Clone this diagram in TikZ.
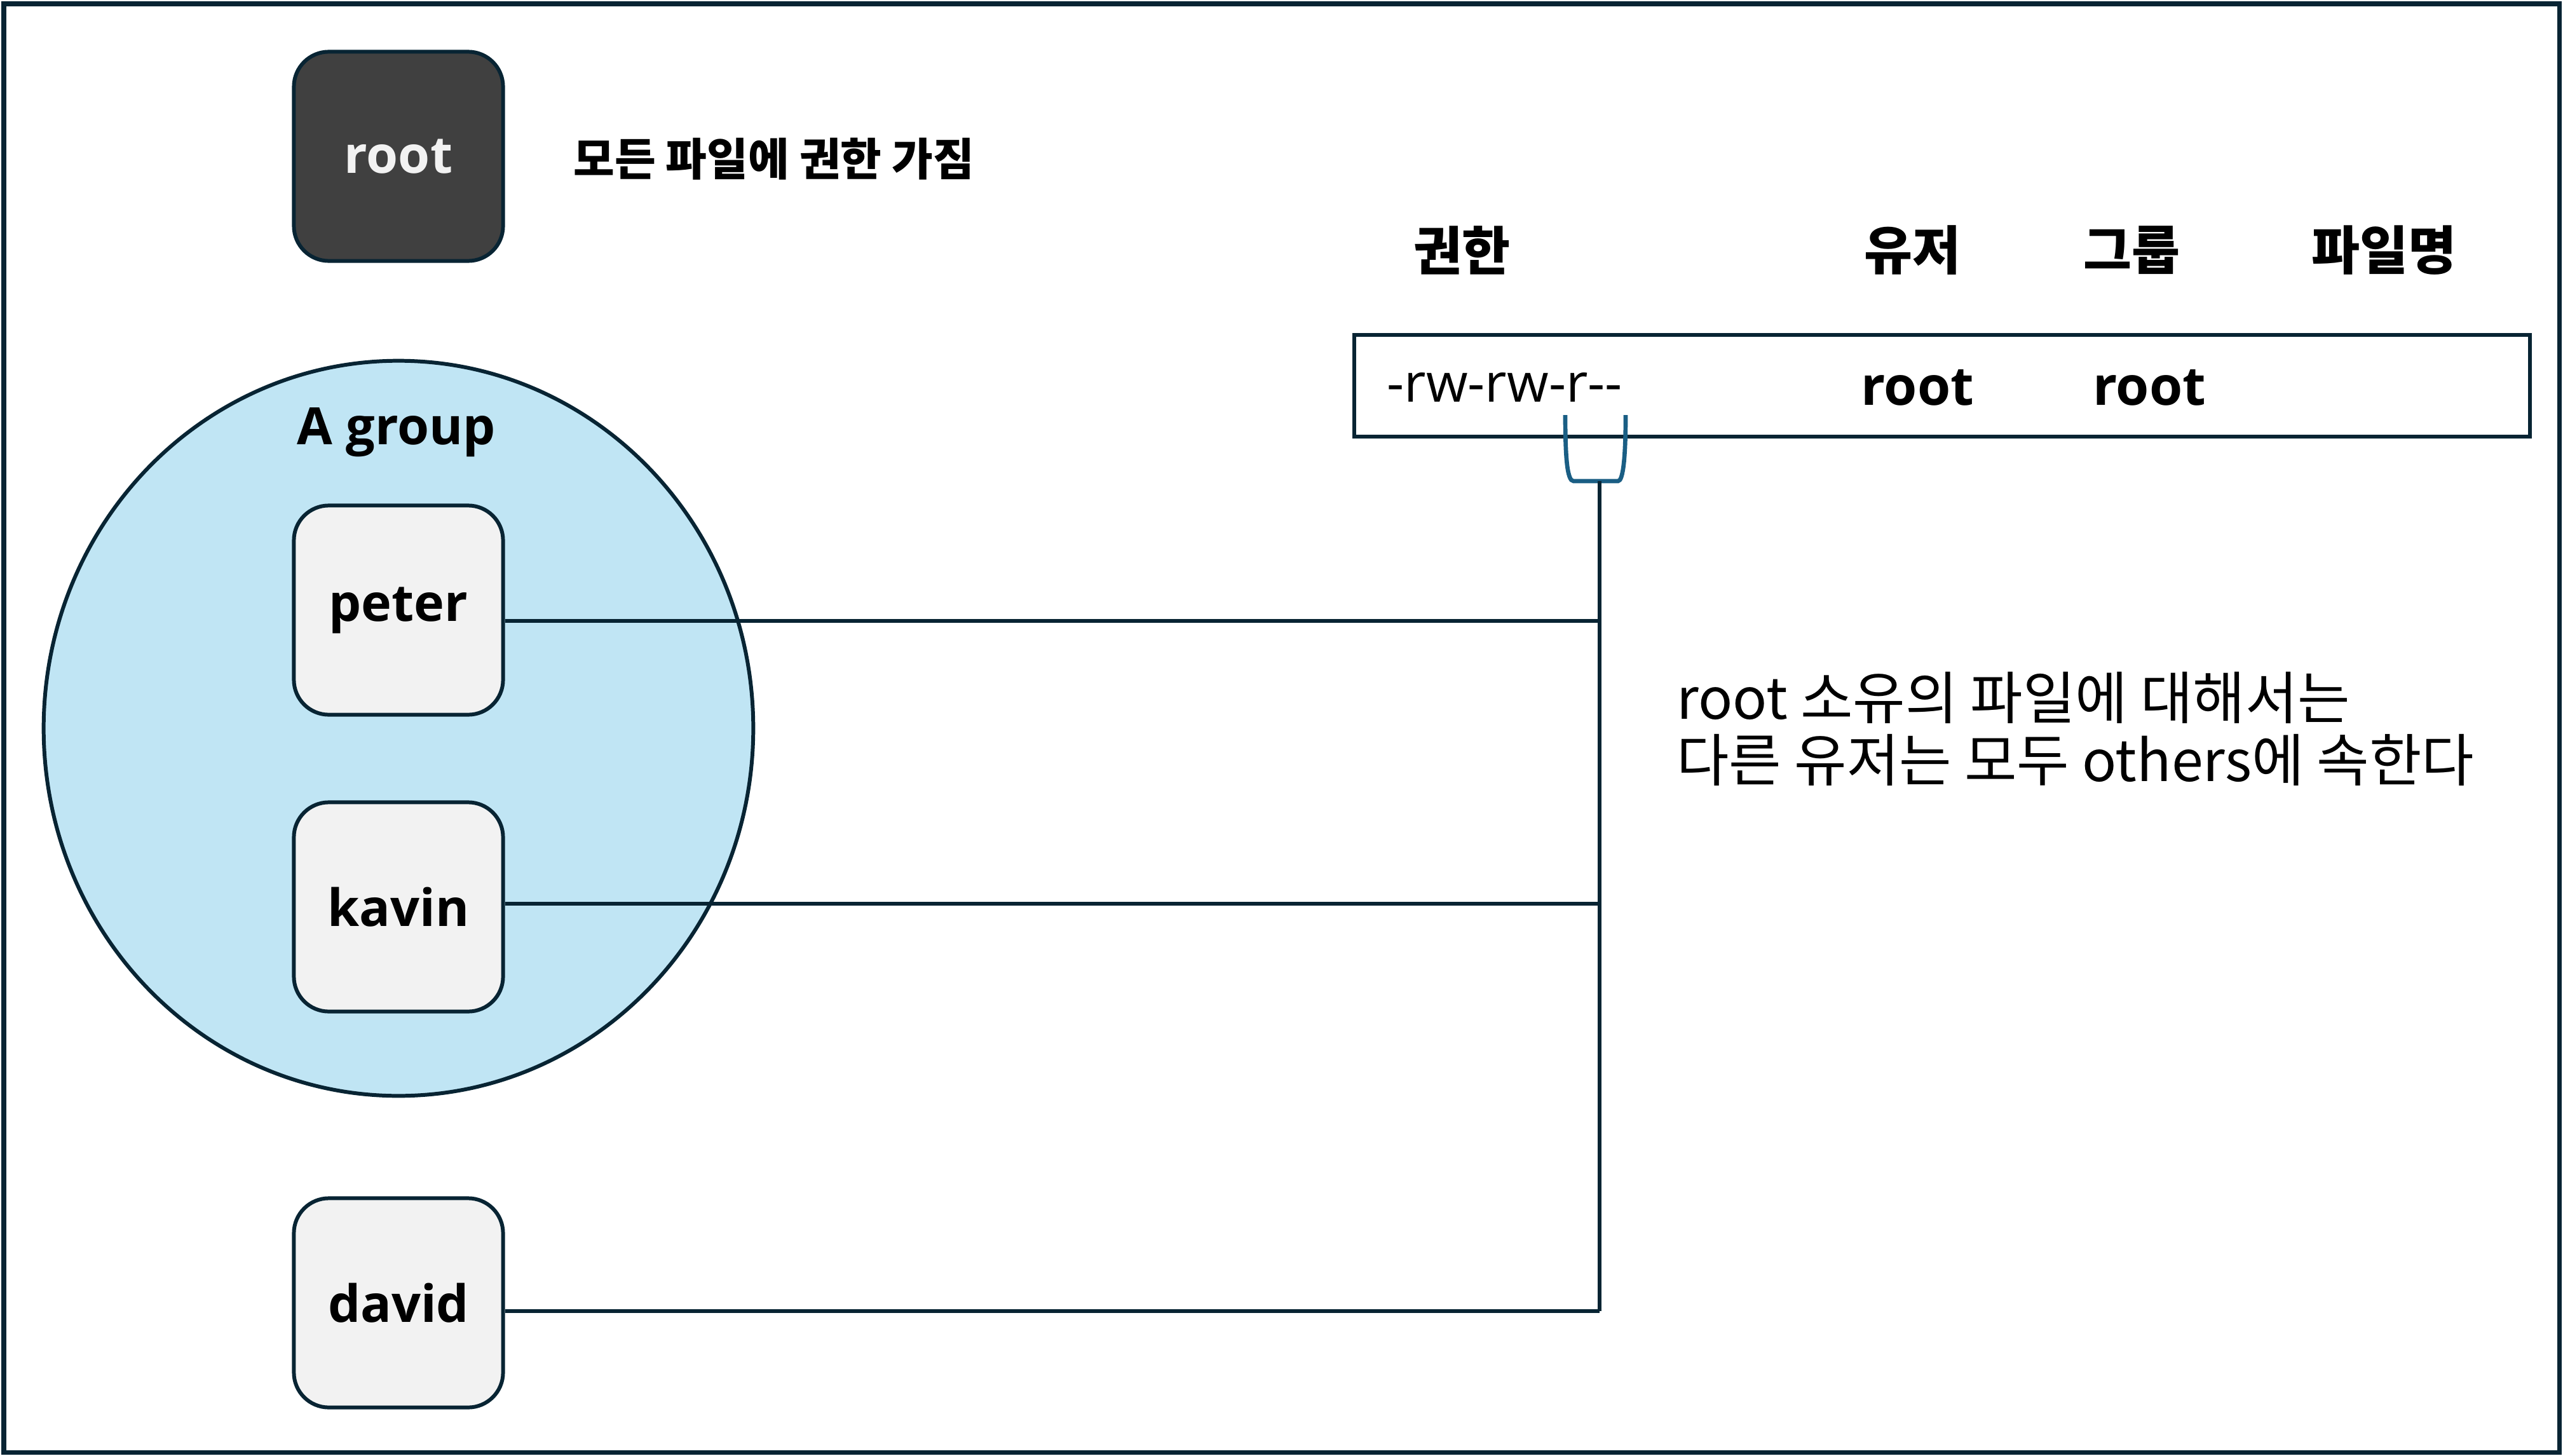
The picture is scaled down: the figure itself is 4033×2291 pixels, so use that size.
\documentclass[tikz,border=0pt]{standalone}
\usepackage{fontspec}
\setmainfont{Open Sans}
\newfontfamily\kr{Noto Sans CJK KR}

\definecolor{linenavy}{RGB}{8,36,51}
\definecolor{rootgray}{RGB}{64,64,64}
\definecolor{boxgray}{RGB}{242,242,242}
\definecolor{groupblue}{RGB}{192,229,244}
\definecolor{bracketblue}{RGB}{26,94,132}

\tikzset{
  userbox/.style={draw=linenavy, line width=1.7pt, rounded corners=0.55cm, fill=boxgray,
    minimum width=3.29cm, minimum height=3.29cm, inner sep=0pt,
    font=\bfseries\fontsize{23}{27}\selectfont},
  rootbox/.style={userbox, fill=rootgray, text=boxgray},
  link/.style={draw=linenavy, line width=1.5pt},
  head/.style={font=\kr\bfseries\fontsize{23.5}{27}\selectfont},
  field/.style={font=\fontsize{24}{28}\selectfont}
}

\begin{document}
\begin{tikzpicture}[x=0.01cm, y=-0.01cm]
  \useasboundingbox (0,0) rectangle (4033,2291);
  \draw[linenavy, line width=2pt] (6,6) rectangle (4027,2285);

  % root
  \node[rootbox] (root) at (627,246) {root};
  \node[anchor=west, font=\kr\bfseries\fontsize{20}{24}\selectfont] (rootnote) at (890,250) {모든 파일에 권한 가짐};

  % A group
  \draw[linenavy, line width=1.7pt, fill=groupblue] (627,1146) ellipse [x radius=5.58cm, y radius=5.78cm];
  \node[font=\bfseries\fontsize{23}{27}\selectfont] (agroup) at (624,680) {A group};

  % file entry
  \node[head] (hperm) at (2300,394) {권한};
  \node[head] (huser) at (3009,394) {유저};
  \node[head] (hgroup) at (3354,394) {그룹};
  \node[head] (hname) at (3751,394) {파일명};
  \node[draw=linenavy, line width=1.9pt, minimum width=18.49cm, minimum height=1.6cm] (file) at (3056,607) {};
  \node[field, anchor=west] (perm) at (2170,610) {-rw-rw-r-{}-};
  \node[field, font=\bfseries\fontsize{24}{28}\selectfont] (fuser) at (3017,610) {root};
  \node[field, font=\bfseries\fontsize{24}{28}\selectfont] (fgroup) at (3382,610) {root};

  % others bracket
  \coordinate (brk) at (2517,757);
  \draw[bracketblue, line width=1.9pt] (2463,653) .. controls (2463,720) and (2466,757) .. (2476,757)
    -- (2546,757) .. controls (2554,757) and (2558,720) .. (2558,653);
  \coordinate (jd) at (2517,2063);
  \draw[link] (brk) -- (jd);

  % users
  \foreach \name/\y/\ly in {peter/960/977, kavin/1427/1422, david/2050/2063} {
    \node[userbox] (\name) at (627,\y) {\name};
    \coordinate (j\name) at (2517,\ly);
    \draw[link] (\name.east |- j\name) -- (j\name);
  }

  \node[anchor=west, align=left, font=\kr\fontsize{25.5}{27.9}\selectfont] (othersnote) at (2626,1147)
    {root 소유의 파일에 대해서는\\다른 유저는 모두 others에 속한다};
\end{tikzpicture}
\end{document}
